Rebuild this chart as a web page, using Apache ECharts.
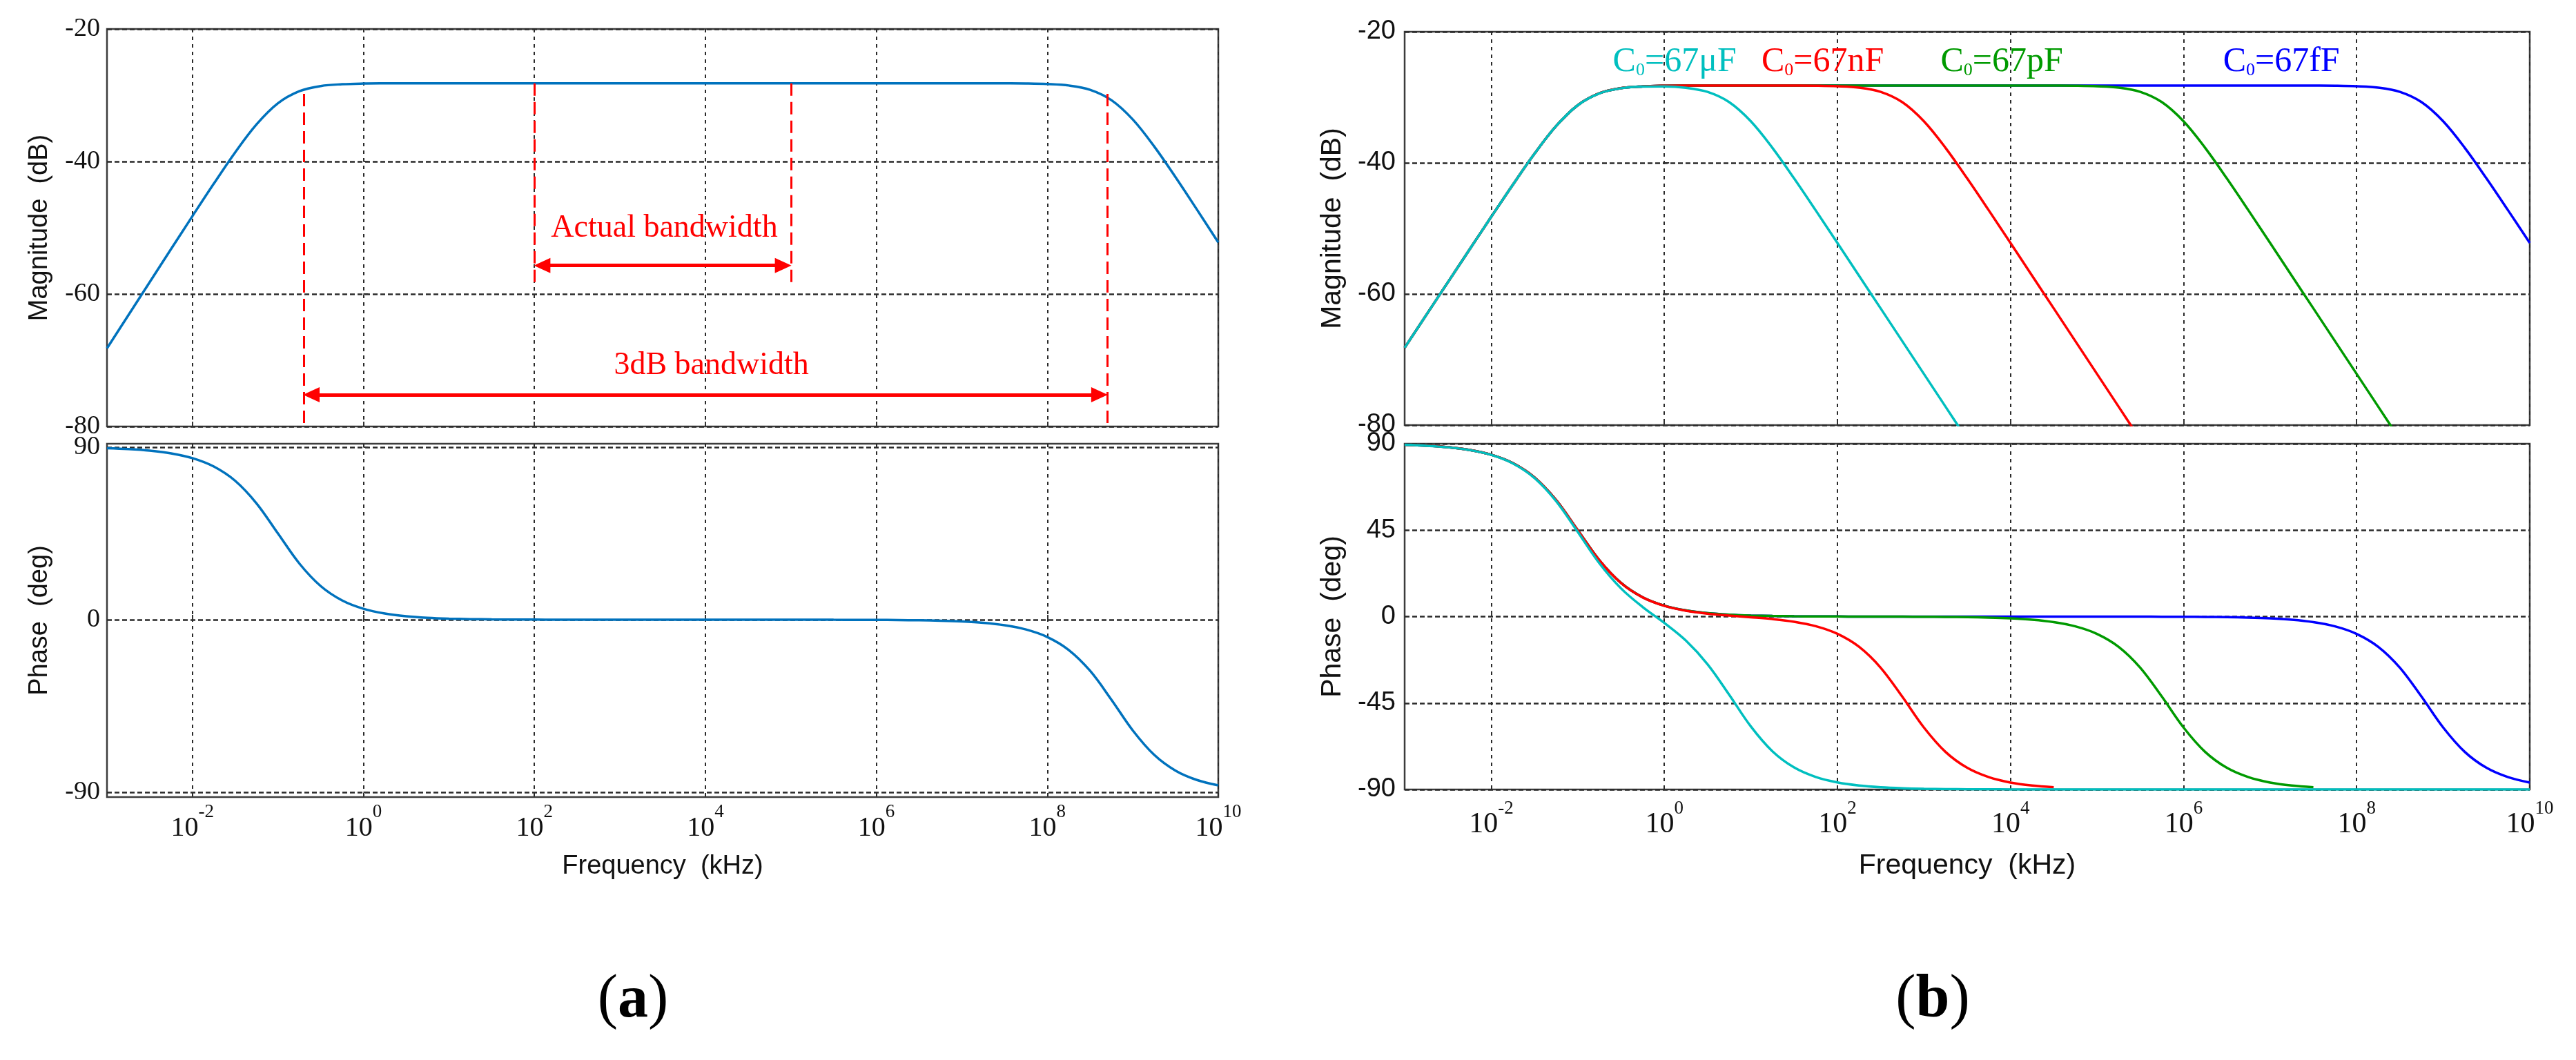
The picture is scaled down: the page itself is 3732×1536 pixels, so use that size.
<!DOCTYPE html>
<html>
<head>
<meta charset="utf-8">
<style>
  html, body { margin: 0; padding: 0; background: #fff; }
  #bode { width: 3732px; height: 1536px; }
</style>
<script src="https://cdn.jsdelivr.net/npm/echarts@6.0.0/dist/echarts.min.js"></script>
</head>
<body>
<div id="bode"></div>
<script>
// x values are log10 of the frequency in kHz
var logFreq = [
  -3, -2.75, -2.5, -2.25, -2, -1.75, -1.5, -1.25,
  -1, -0.75, -0.5, -0.25, 0, 0.25, 0.5, 0.75,
  1, 1.25, 1.5, 1.75, 2, 2.25, 2.5, 2.75,
  3, 3.25, 3.5, 3.75, 4, 4.25, 4.5, 4.75,
  5, 5.25, 5.5, 5.75, 6, 6.25, 6.5, 6.75,
  7, 7.25, 7.5, 7.75, 8, 8.25, 8.5, 8.75,
  9, 9.25, 9.5, 9.75, 10
];
var xTicks = [-2, 0, 2, 4, 6, 8, 10];
var magTicks = [-80, -60, -40, -20];
var phaseTicksA = [-90, 0, 90];
var phaseTicksB = [-90, -45, 0, 45, 90];

// (a) magnitude (dB) and phase (deg)
var magA = [
  -68.2, -63.2, -58.2, -53.21, -48.24, -43.34, -38.61, -34.39,
  -31.21, -29.39, -28.61, -28.34, -28.24, -28.21, -28.2, -28.2,
  -28.2, -28.2, -28.2, -28.2, -28.2, -28.2, -28.2, -28.2,
  -28.2, -28.2, -28.2, -28.2, -28.2, -28.2, -28.2, -28.2,
  -28.2, -28.2, -28.2, -28.2, -28.2, -28.2, -28.2, -28.2,
  -28.2, -28.2, -28.21, -28.23, -28.31, -28.53, -29.17, -30.74,
  -33.66, -37.72, -42.37, -47.25, -52.22
];
var phaseA = [
  89.43, 88.98, 88.19, 86.78, 84.29, 79.92, 72.45, 60.65,
  45.0, 29.35, 17.55, 10.08, 5.71, 3.22, 1.81, 1.02,
  0.57, 0.32, 0.18, 0.1, 0.06, 0.03, 0.02, 0.01,
  0, 0, 0, 0, 0, 0, 0, 0,
  0, 0, -0.03, -0.05, -0.09, -0.16, -0.29, -0.51,
  -0.91, -1.61, -2.87, -5.09, -9.01, -15.74, -26.62, -41.71,
  -57.75, -70.46, -78.72, -83.6, -86.39
];

// (b) one curve per C0
var capNames = ['67μF', '67nF', '67pF', '67fF'];
var capColors = ['#00bfbf', '#ff0000', '#009a00', '#0000ff'];
var magCyan = [
  -68.2, -63.2, -58.2, -53.21, -48.24, -43.34, -38.61, -34.39,
  -31.21, -29.4, -28.62, -28.37, -28.35, -28.55, -29.18, -30.74,
  -33.66, -37.72, -42.37, -47.25, -52.22, -57.21, -62.2, -67.2,
  -72.2, -77.2, -82.2, null, null, null, null, null,
  null, null, null, null, null, null, null, null,
  null, null, null, null, null, null, null, null,
  null, null, null, null, null
];
var magRed = [
  -68.2, -63.2, -58.2, -53.21, -48.24, -43.34, -38.61, -34.39,
  -31.21, -29.39, -28.61, -28.34, -28.24, -28.21, -28.2, -28.2,
  -28.2, -28.2, -28.21, -28.23, -28.31, -28.53, -29.17, -30.74,
  -33.66, -37.72, -42.37, -47.25, -52.22, -57.21, -62.2, -67.2,
  -72.2, -77.2, -82.2, null, null, null, null, null,
  null, null, null, null, null, null, null, null,
  null, null, null, null, null
];
var magGreen = [
  -68.2, -63.2, -58.2, -53.21, -48.24, -43.34, -38.61, -34.39,
  -31.21, -29.39, -28.61, -28.34, -28.24, -28.21, -28.2, -28.2,
  -28.2, -28.2, -28.2, -28.2, -28.2, -28.2, -28.2, -28.2,
  -28.2, -28.2, -28.2, -28.2, -28.2, -28.2, -28.21, -28.23,
  -28.31, -28.53, -29.17, -30.74, -33.66, -37.72, -42.37, -47.25,
  -52.22, -57.21, -62.2, -67.2, -72.2, -77.2, -82.2, null,
  null, null, null, null, null
];
var magBlue = magA; // the 67fF curve is the one of (a)
var phaseCyan = [
  89.42, 88.96, 88.16, 86.73, 84.2, 79.76, 72.16, 60.14,
  44.09, 27.74, 14.68, 4.99, -3.3, -12.52, -24.81, -40.69,
  -57.18, -70.14, -78.54, -83.5, -86.33, -87.94, -88.84, -89.35,
  -89.64, -89.8, -89.89, -89.94, -89.96, -90, -90, -90,
  -90, -90, -90, -90, -90, -90, -90, -90,
  -90, -90, -90, -90, -90, -90, -90, -90,
  -90, -90, -90, -90, -90
];
var phaseRed = [
  89.43, 88.98, 88.19, 86.78, 84.29, 79.92, 72.45, 60.64,
  44.99, 29.33, 17.52, 10.03, 5.62, 3.06, 1.52, 0.51,
  -0.34, -1.29, -2.69, -4.99, -8.95, -15.71, -26.6, -41.7,
  -57.75, -70.46, -78.72, -83.6, -86.39, -87.97, -88.86, null,
  null, null, null, null, null, null, null, null,
  null, null, null, null, null, null, null, null,
  null, null, null, null, null
];
var phaseGreen = [
  89.43, 88.98, 88.19, 86.78, 84.29, 79.92, 72.45, 60.65,
  45.0, 29.35, 17.55, 10.08, 5.71, 3.22, 1.81, 1.02,
  0.57, 0.32, 0.18, 0.1, 0.06, 0.02, -0.01, -0.04,
  -0.09, -0.16, -0.29, -0.51, -0.91, -1.61, -2.87, -5.09,
  -9.01, -15.74, -26.62, -41.71, -57.75, -70.46, -78.72, -83.6,
  -86.39, -87.97, -88.86, null, null, null, null, null,
  null, null, null, null, null
];
var phaseBlue = phaseA;

var SERIF = '"Liberation Serif", "Times New Roman", serif';
var SANS = '"Liberation Sans", Arial, sans-serif';

function pts(arr) {
  return logFreq.map(function (x, i) { return [x, arr[i]]; })
    .filter(function (p) { return p[1] != null; });
}

function xAxisFor(g, withLabels, big) {
  return {
    type: 'value', gridIndex: g, min: -3, max: 10,
    axisLine: { show: false },
    axisTick: { show: true, inside: true, length: 7, customValues: xTicks,
      lineStyle: { color: '#333', width: 2 } },
    axisLabel: {
      show: withLabels, customValues: xTicks, margin: big ? 14 : 8,
      formatter: function (v) { return '{b|10}{e|' + v + '}'; },
      rich: {
        b: { fontFamily: SERIF, fontSize: big ? 42 : 40, color: '#111', verticalAlign: 'bottom', padding: [big ? 16 : 17, 0, 0, 0] },
        e: { fontFamily: SERIF, fontSize: 27, color: '#111', verticalAlign: 'top' }
      }
    },
    splitLine: { show: true, lineStyle: { color: '#2a2a2a', width: 2, type: [5, 6] } },
    name: withLabels ? 'Frequency  (kHz)' : '',
    nameLocation: 'middle', nameGap: big ? 90 : 82,
    nameTextStyle: { fontFamily: SANS, fontSize: big ? 41 : 38, color: '#111' }
  };
}

function yAxisFor(g, name, min, max, ticks, font, big) {
  return {
    type: 'value', gridIndex: g, min: min, max: max,
    axisLine: { show: false },
    axisTick: { show: true, inside: true, length: 7, customValues: ticks,
      lineStyle: { color: '#333', width: 2 } },
    axisLabel: { customValues: ticks, margin: big ? 13 : 10,
      fontFamily: font, fontSize: 38, color: '#111' },
    splitLine: { show: true, lineStyle: { color: '#2a2a2a', width: 2.5, type: [7, 4] } },
    name: name, nameLocation: 'middle', nameRotate: 90, nameGap: big ? 84 : 78,
    nameTextStyle: { fontFamily: SANS, fontSize: big ? 41 : 38, color: '#111' }
  };
}

function lineSeries(x, y, data, color, extra) {
  var s = {
    type: 'line', xAxisIndex: x, yAxisIndex: y, data: pts(data),
    showSymbol: false, smooth: 0.35,
    lineStyle: { color: color, width: 3.5 }, itemStyle: { color: color },
    z: 3
  };
  for (var k in extra) s[k] = extra[k];
  return s;
}

function capLabel(i, xPos) {
  return {
    coord: [xPos, -24.6],
    label: {
      show: true, position: 'inside',
      formatter: '{c|C}{s|0}{c|=' + capNames[i] + '}',
      rich: {
        c: { fontFamily: SERIF, fontSize: 50, color: capColors[i], verticalAlign: 'bottom' },
        s: { fontFamily: SERIF, fontSize: 26, color: capColors[i], verticalAlign: 'bottom' }
      }
    }
  };
}

var redDash = { color: '#ff0000', width: 3, type: [18, 9] };
var redArrow = { color: '#ff0000', width: 5, type: 'solid' };

var chart = echarts.init(document.getElementById('bode'));
var option = {
  animation: false,
  backgroundColor: '#ffffff',
  grid: [
    { left: 155, top: 42, width: 1610, height: 576 },
    { left: 155, top: 643, width: 1610, height: 512 },
    { left: 2035, top: 46, width: 1630, height: 570 },
    { left: 2035, top: 643, width: 1630, height: 501 }
  ].map(function (g) {
    g.show = true; g.borderColor = '#3c3c3c'; g.borderWidth = 2.5;
    g.backgroundColor = 'transparent';
    return g;
  }),
  xAxis: [
    xAxisFor(0, false, false),
    xAxisFor(1, true, false),
    xAxisFor(2, false, true),
    xAxisFor(3, true, true)
  ],
  yAxis: [
    yAxisFor(0, 'Magnitude  (dB)', -80, -20, magTicks, SERIF, false),
    yAxisFor(1, 'Phase  (deg)', -92.5, 91.8, phaseTicksA, SERIF, false),
    yAxisFor(2, 'Magnitude  (dB)', -80, -20, magTicks, SANS, true),
    yAxisFor(3, 'Phase  (deg)', -90, 90, phaseTicksB, SANS, true)
  ],
  graphic: [
    { type: 'text', x: 917, y: 1450, style: {
      text: '{p|(}{q|a}{p|)}', align: 'center', verticalAlign: 'middle',
      rich: { p: { fontFamily: SERIF, fontSize: 88, fill: '#000' },
              q: { fontFamily: SERIF, fontSize: 88, fontWeight: 'bold', fill: '#000' } } } },
    { type: 'text', x: 2800, y: 1450, style: {
      text: '{p|(}{q|b}{p|)}', align: 'center', verticalAlign: 'middle',
      rich: { p: { fontFamily: SERIF, fontSize: 88, fill: '#000' },
              q: { fontFamily: SERIF, fontSize: 88, fontWeight: 'bold', fill: '#000' } } } }
  ],
  series: [
    lineSeries(0, 0, magA, '#0072bd', {
      markLine: {
        silent: true, animation: false, symbol: ['none', 'none'],
        label: { show: false }, lineStyle: redDash,
        data: [
          [{ coord: [2, -28.2] }, { coord: [2, -59.1] }],
          [{ coord: [5, -28.2] }, { coord: [5, -59.1] }],
          [{ coord: [-0.7, -29.8] }, { coord: [-0.7, -80] }],
          [{ coord: [8.7, -29.8] }, { coord: [8.7, -80] }],
          [{ coord: [2.09, -55.7], symbol: 'triangle', symbolSize: [22, 24], lineStyle: redArrow },
           { coord: [4.91, -55.7], symbol: 'triangle', symbolSize: [22, 24] }],
          [{ coord: [-0.61, -75.2], symbol: 'triangle', symbolSize: [22, 24], lineStyle: redArrow },
           { coord: [8.61, -75.2], symbol: 'triangle', symbolSize: [22, 24] }]
        ]
      },
      markPoint: {
        silent: true, animation: false, symbol: 'rect', symbolSize: 1,
        itemStyle: { color: 'rgba(0,0,0,0)' },
        label: { show: true, position: 'inside', fontFamily: SERIF, fontSize: 46, color: '#ff0000' },
        data: [
          { coord: [3.52, -50.1], label: { formatter: 'Actual bandwidth' } },
          { coord: [4.07, -70.8], label: { formatter: '3dB bandwidth' } }
        ]
      }
    }),
    lineSeries(1, 1, phaseA, '#0072bd'),

    lineSeries(2, 2, magBlue, capColors[3], {
      markPoint: { silent: true, animation: false, symbol: 'rect', symbolSize: 1,
        itemStyle: { color: 'rgba(0,0,0,0)' }, data: [capLabel(3, 7.13)] } }),
    lineSeries(2, 2, magGreen, capColors[2], {
      markPoint: { silent: true, animation: false, symbol: 'rect', symbolSize: 1,
        itemStyle: { color: 'rgba(0,0,0,0)' }, data: [capLabel(2, 3.9)] } }),
    lineSeries(2, 2, magRed, capColors[1], {
      markPoint: { silent: true, animation: false, symbol: 'rect', symbolSize: 1,
        itemStyle: { color: 'rgba(0,0,0,0)' }, data: [capLabel(1, 1.83)] } }),
    lineSeries(2, 2, magCyan, capColors[0], {
      markPoint: { silent: true, animation: false, symbol: 'rect', symbolSize: 1,
        itemStyle: { color: 'rgba(0,0,0,0)' }, data: [capLabel(0, 0.12)] } }),

    lineSeries(3, 3, phaseBlue, capColors[3]),
    lineSeries(3, 3, phaseGreen, capColors[2]),
    lineSeries(3, 3, phaseRed, capColors[1]),
    lineSeries(3, 3, phaseCyan, capColors[0])
  ]
};
chart.setOption(option);
</script>
</body>
</html>
